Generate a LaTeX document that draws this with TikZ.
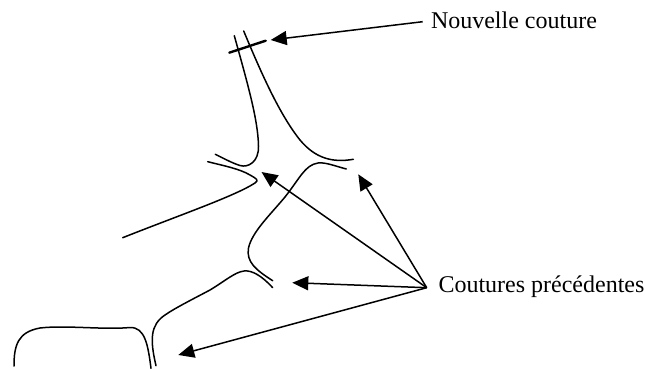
\documentclass[tikz,border=0pt]{standalone}
\usepackage{fontspec}
\setmainfont{Liberation Serif}
\usetikzlibrary{arrows.meta}
\tikzset{couture/.style={line width=1.5pt, line cap=round, line join=round},
fleche/.style={line width=1.5pt, -{Triangle[length=16pt,width=14pt]}},
legende/.style={inner sep=0pt, outer sep=0pt, anchor=base west, font=\fontsize{24}{28}\selectfont}}

\begin{document}
\begin{tikzpicture}[x=1pt,y=-1pt]
\useasboundingbox (0,0) rectangle (645,369);

% labels
\node[legende] (nouvelle) at (431,28.5) {Nouvelle couture};
\node[legende] (precedentes) at (438.5,292) {Coutures précédentes};

\coordinate (depart1) at (422.7,21.7);
\coordinate (depart2) at (426.7,287.7);
\coordinate (cible1) at (270.7,40);
\coordinate (cible2) at (261.5,172);
\coordinate (cible3) at (358.3,174.3);
\coordinate (cible4) at (292.3,282.7);
\coordinate (cible5) at (178.3,355);

% seams
\draw[couture] (234.3,35.7) .. controls (248,85) and (258,120) .. (258.5,146) .. controls (259,162) and (248,168) .. (240,165.5) .. controls (232,163) and (225,159) .. (215.3,154.3);
\draw[couture] (243.7,31) .. controls (262,75) and (280,115) .. (300,140) .. controls (315,158) and (332,163) .. (353.3,159.3);
\draw[couture,line width=2.4pt] (229.3,52.7) -- (265.7,40.7);
\draw[couture] (207.7,161.7) .. controls (225,166) and (240,169) .. (250,175) .. controls (257,179) and (259,180) .. (255,183) .. controls (235,196) and (180,215) .. (122.7,237.7);
\draw[couture] (346.3,169) .. controls (335,166) and (325,162) .. (318,163) .. controls (305,165) and (300,178) .. (285,197) .. controls (270,215) and (252,232) .. (248.5,248) .. controls (246,262) and (256,270) .. (272.7,280.7);
\draw[couture] (272.7,287.7) .. controls (262,276) and (252,270) .. (244,271) .. controls (235,272) and (225,281) .. (210,290) .. controls (195,298) and (175,308) .. (165,315) .. controls (150,325) and (150,340) .. (156,365.7);
\draw[couture] (14,366) .. controls (14,345) and (18,332) .. (40,328) .. controls (65,325) and (105,330) .. (130,327.5) .. controls (145,327) and (148,345) .. (151,368.3);

% arrows
\draw[fleche] (depart1) -- (cible1);
\foreach \cible in {cible2,cible3,cible4,cible5}
     \draw[fleche] (depart2) -- (\cible);
\end{tikzpicture}
\end{document}
